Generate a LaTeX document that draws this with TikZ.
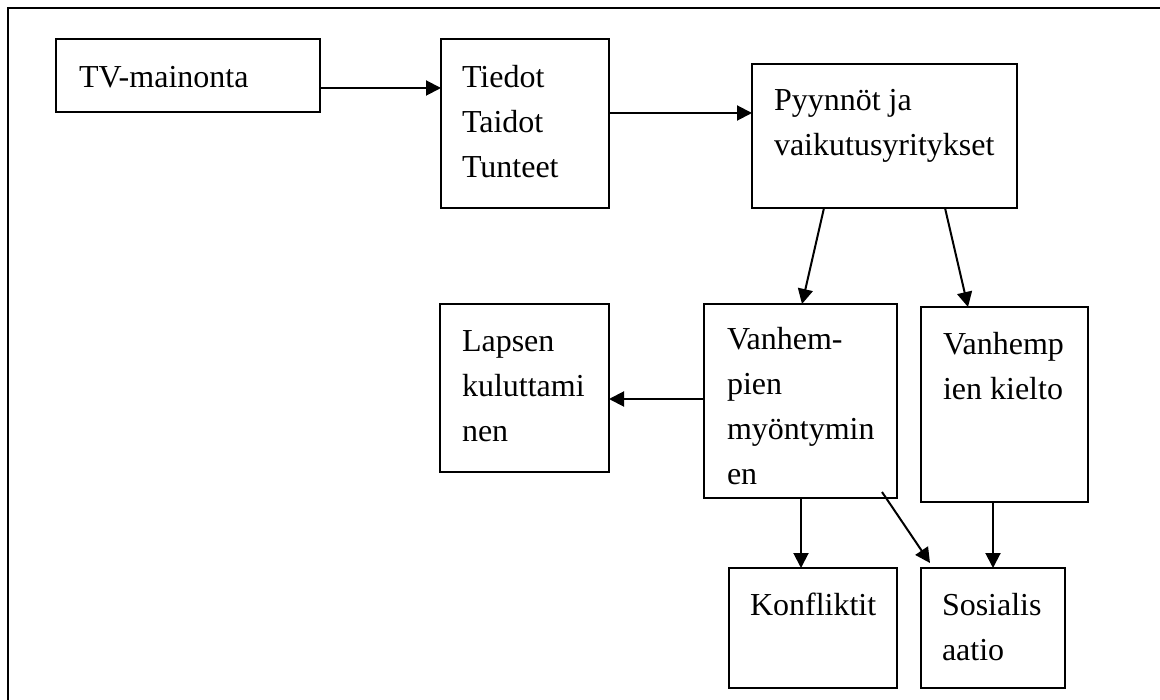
\documentclass[tikz,border=0pt]{standalone}
\usepackage{fontspec}
\setmainfont{Liberation Serif}
\usetikzlibrary{arrows.meta,calc}
\begin{document}
\begin{tikzpicture}[x=1pt,y=-1pt,
  box/.style={draw, line width=2pt, rectangle, inner sep=0pt, outer sep=0pt, anchor=north west},
  txt/.style={anchor=base west, inner sep=0pt, outer sep=0pt, font=\fontsize{32}{45}\selectfont},
  conn/.style={line width=2pt, -{Triangle[length=15pt,width=15pt]}},
  frame/.style={line width=2.2pt}]
\useasboundingbox (0,0) rectangle (1160,700);
\coordinate (fr1) at (1160,8);
\coordinate (fr2) at (8,8);
\coordinate (fr3) at (8,700);
\draw[frame] (fr1) -- (fr2) -- (fr3);
% boxes
\node[box, minimum width=264pt, minimum height=73pt]  (tv)  at (56,39)  {};
\node[box, minimum width=168pt, minimum height=169pt] (tie) at (441,39) {};
\node[box, minimum width=265pt, minimum height=144pt] (pyy) at (752,64) {};
\node[box, minimum width=193pt, minimum height=194pt] (van) at (704,304) {};
\node[box, minimum width=167pt, minimum height=195pt] (kie) at (921,307) {};
\node[box, minimum width=169pt, minimum height=168pt] (lap) at (440,304) {};
\node[box, minimum width=168pt, minimum height=120pt] (kon) at (729,568) {};
\node[box, minimum width=144pt, minimum height=120pt] (sos) at (921,568) {};
% texts
\node[txt] (tvT)  at ($(tv.north west)+(23,49)$)  {TV-mainonta};
\node[txt] (tieT) at ($(tie.north west)+(21,49)$) {\vtop{\hbox{Tiedot}\hbox{Taidot}\hbox{Tunteet}}};
\node[txt] (pyyT) at ($(pyy.north west)+(22,47)$) {\vtop{\hbox{Pyynnöt ja}\hbox{vaikutusyritykset}}};
\node[txt] (vanT) at ($(van.north west)+(23,46)$) {\vtop{\hbox{Vanhem-}\hbox{pien}\hbox{myöntymin}\hbox{en}}};
\node[txt] (kieT) at ($(kie.north west)+(22,48)$) {\vtop{\hbox{Vanhemp}\hbox{ien kielto}}};
\node[txt] (lapT) at ($(lap.north west)+(22,48)$) {\vtop{\hbox{Lapsen}\hbox{kuluttami}\hbox{nen}}};
\node[txt] (konT) at ($(kon.north west)+(21,47)$) {Konfliktit};
\node[txt] (sosT) at ($(sos.north west)+(21,47)$) {\vtop{\hbox{Sosialis}\hbox{aatio}}};
% connectors
\draw[conn] ($(tv.north east)+(0,49)$) -- ($(tie.north west)+(0,49)$);
\draw[conn] ($(tie.north east)+(0,74)$) -- ($(pyy.north west)+(0,49)$);
\draw[conn] ($(pyy.south west)+(72,0)$) -- ($(van.north west)+(98,0)$);
\draw[conn] ($(pyy.south west)+(193,0)$) -- ($(kie.north west)+(47,0)$);
\draw[conn] ($(van.north west)+(0,95)$) -- ($(lap.north east)+(0,95)$);
\draw[conn] ($(van.south west)+(97,0)$) -- ($(kon.north west)+(72,0)$);
\coordinate (diagS) at ($(van.south east)+(-15,-6)$);
\coordinate (diagE) at ($(sos.north west)+(9,-5)$);
\draw[conn] (diagS) -- (diagE);
\draw[conn] ($(kie.south west)+(72,0)$) -- ($(sos.north west)+(72,0)$);
\end{tikzpicture}
\end{document}
